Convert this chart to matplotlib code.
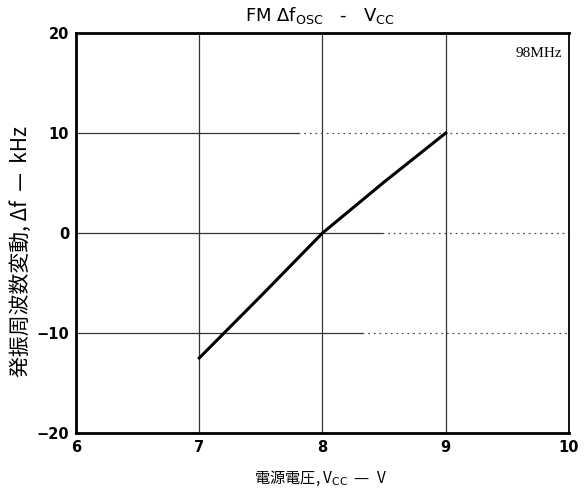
import matplotlib.pyplot as plt

# supply voltage (V) and oscillator frequency drift (kHz) at 98 MHz
vcc = [7.0, 7.5, 8.0, 8.5, 9.0]
delta_f = [-12.5, -6.3, 0.0, 5.1, 10.0]

x_ticks = [6, 7, 8, 9, 10]
y_ticks = [-20, -10, 0, 10, 20]

plt.rcParams['font.family'] = ['DejaVu Sans', 'Noto Sans CJK JP']

fig = plt.figure(figsize=(5.87, 4.93), dpi=100)
ax = fig.add_axes([0.1295, 0.1217, 0.8398, 0.8113])

ax.set_xlim(6, 10)
ax.set_ylim(-20, 20)

# vertical grid: plain thin lines
for x in x_ticks[1:-1]:
    ax.axvline(x, color='#333333', lw=0.9, zorder=1)

# horizontal grid: solid on the left part, dotted towards the right
solid_end = {10: 0.45, 0: 0.62, -10: 0.58}
for y in y_ticks[1:-1]:
    ax.axhline(y, xmin=0, xmax=solid_end[y], color='#333333', lw=0.9, zorder=1)
    ax.axhline(y, xmin=solid_end[y], xmax=1, color='#555555', lw=0.9,
               ls=(0, (1.5, 3)), zorder=1)

ax.plot(vcc, delta_f, color='black', lw=2.2, zorder=3)

ax.set_xticks(x_ticks)
ax.set_yticks(y_ticks)
ax.set_yticklabels(['\u221220', '\u221210', '0', '10', '20'])
ax.tick_params(length=0, labelsize=10.5, pad=5)
for lab in ax.get_xticklabels() + ax.get_yticklabels():
    lab.set_fontweight('bold')

for side in ['left', 'bottom', 'top']:
    ax.spines[side].set_linewidth(2.0)
ax.spines['right'].set_linewidth(1.3)

ax.text(0.985, 0.965, '98MHz', transform=ax.transAxes, ha='right', va='top',
        fontsize=11, family='Liberation Serif')

fig.text(0.545, 0.968, r'FM $\Delta$f$_{\mathrm{OSC}}$   -   V$_{\mathrm{CC}}$',
         ha='center', va='center', fontsize=13)
fig.text(0.545, 0.03, '電源電圧, V$_{\\mathrm{CC}}$  \u2014  V', ha='center', va='center',
         fontsize=11, family=['Noto Sans CJK JP', 'DejaVu Sans'])
fig.text(0.035, 0.49, '発振周波数変動, Δf  \u2014  kHz', rotation=90, ha='center',
         va='center', fontsize=15, family=['Noto Sans CJK JP', 'DejaVu Sans'])

fig.savefig('out.png', dpi=100)
